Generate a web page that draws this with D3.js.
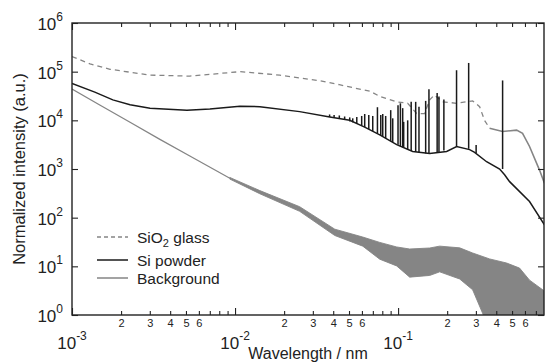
<!DOCTYPE html>
<html><head><meta charset="utf-8">
<script src="https://cdn.jsdelivr.net/npm/d3@7"></script>
<style>
body{margin:0;background:#fff}
svg{display:block;font-family:"Liberation Sans",Arial,Helvetica,sans-serif}
</style>
</head><body>
<svg id="chart" width="545" height="363"></svg>
<script>
// ---------- data (wavelength in nm, intensity in a.u.) ----------
const sio2X = [0.001, 0.00129, 0.00171, 0.00301, 0.00528, 0.0107, 0.0188, 0.0331, 0.0436, 0.0542, 0.0670, 0.0772, 0.0980, 0.1145, 0.130, 0.1455, 0.1562, 0.167, 0.1876, 0.2286, 0.2865, 0.3162, 0.339, 0.364];
const sio2Y = [204000, 145000, 112000, 85000, 81000, 100000, 85000, 65000, 54000, 46000, 40000, 31000, 24000, 22400, 13800, 13800, 26300, 33100, 24000, 22400, 25100, 19100, 10000, 6900];
const sio2TailX = [0.364, 0.4375, 0.533, 0.580, 0.640, 0.737, 0.79];
const sio2TailY = [6900, 5900, 6300, 5400, 2900, 950, 510];

const siX = [0.001, 0.00138, 0.00178, 0.00227, 0.00301, 0.00507, 0.00701, 0.0107, 0.01419, 0.0249, 0.0381, 0.0505, 0.0624, 0.0772, 0.0980, 0.1229, 0.1562, 0.1985, 0.2286, 0.2746, 0.2947, 0.349, 0.4195, 0.450, 0.483, 0.640, 0.79];
const siY = [57500, 38000, 26300, 20900, 17800, 16200, 17000, 19500, 19100, 15100, 11700, 10000, 7240, 5010, 3160, 2290, 2090, 2300, 2880, 2500, 2200, 1410, 1000, 760, 550, 214, 71];
const peakX    = [0.0380, 0.0405, 0.0436, 0.0470, 0.0505, 0.0527, 0.0558, 0.0598, 0.0624, 0.0661, 0.0699, 0.0747, 0.0783, 0.0805, 0.0839, 0.0901, 0.0927, 0.0999, 0.1033, 0.1067, 0.1082, 0.1145, 0.1203, 0.1282, 0.1343, 0.1476, 0.1546, 0.1736, 0.1781, 0.1909, 0.2283, 0.2709, 0.3010, 0.4375];
const peakTop  = [13200, 12800, 12600, 12000, 11500, 11000, 11700, 12300, 13500, 12900, 12300, 18600, 12900, 13500, 12300, 16200, 11000, 20400, 22400, 17800, 9300, 10000, 24000, 24000, 19100, 25100, 43700, 36300, 30900, 26900, 107000, 151000, 3100, 66000];
const peakBase = [11700, 11200, 10700, 10300, 9500, 9100, 8500, 7800, 7240, 6600, 6000, 5400, 4900, 4700, 4300, 3700, 3550, 3160, 2950, 2820, 2750, 2510, 2340, 2240, 2190, 2090, 2090, 2190, 2240, 2400, 2880, 2600, 2140, 1000];

const bgX = [0.001, 0.00148, 0.00227, 0.00346, 0.00528, 0.00929];
const bgY = [44000, 20700, 9140, 4070, 1850, 644];
const bandX     = [0.00929, 0.01419, 0.0249, 0.0409, 0.0607, 0.0772, 0.0980, 0.1178, 0.1562, 0.1799, 0.2385, 0.2865, 0.3641, 0.4628, 0.5559, 0.6402, 0.79];
const bandUpper = [670, 360, 168, 58, 40, 31, 25, 22.7, 23.8, 26, 24, 18.8, 14.2, 11.7, 9.2, 5.2, 3.1];
const bandLower = [620, 310, 135, 43, 26, 14, 10.2, 6.0, 6.5, 7.7, 5.5, 3.3, 0.5, 0.5, 0.5, 0.5, 0.5];

const xMajorTicks = [0.001, 0.01, 0.1];
const xMajorExp = ["-3", "-2", "-1"];
const xMinorTicks = [0.002,0.003,0.004,0.005,0.006,0.007,0.008,0.009,
                     0.02,0.03,0.04,0.05,0.06,0.07,0.08,0.09,
                     0.2,0.3,0.4,0.5,0.6,0.7];
const xMinorLabels = ["2","3","4","5","6","","","",
                      "2","3","4","5","6","","","",
                      "2","3","4","5","6",""];
const yTicks = [1, 10, 100, 1000, 10000, 100000, 1000000];
const yExp = ["0","1","2","3","4","5","6"];

const legendNames = ["SiO2 glass", "Si powder", "Background"];

// ---------- drawing ----------
const M = {left: 72, right: 544, top: 23, bottom: 315};
const svg = d3.select("#chart");
const x = d3.scaleLog().domain([0.001, 0.785]).range([M.left, M.right]);
const y = d3.scaleLog().domain([1, 1e6]).range([M.bottom, M.top]);
const gray = "#858585", ink = "#1a1a1a", axisInk = "#222";

svg.append("clipPath").attr("id", "clip").append("rect")
  .attr("x", M.left).attr("y", M.top).attr("width", M.right - M.left).attr("height", M.bottom - M.top);
const plot = svg.append("g").attr("clip-path", "url(#clip)");

const line = d3.line().x(d => x(d[0])).y(d => y(d[1]));
const zip = (a, b) => a.map((v, i) => [v, b[i]]);

// Background: clean part + noise band
plot.append("path").datum(zip(bgX, bgY)).attr("d", line)
  .attr("fill", "none").attr("stroke", gray).attr("stroke-width", 1.3);
const band = d3.area().x(d => x(d.x)).y0(d => y(Math.max(d.lo, 0.3))).y1(d => y(d.hi));
plot.append("path").datum(bandX.map((v, i) => ({x: v, hi: bandUpper[i], lo: bandLower[i]})))
  .attr("d", band).attr("fill", gray).attr("stroke", gray).attr("stroke-width", 0.9);

// SiO2 glass
plot.append("path").datum(zip(sio2X, sio2Y)).attr("d", line)
  .attr("fill", "none").attr("stroke", gray).attr("stroke-width", 1.3).attr("stroke-dasharray", "5,4");
plot.append("path").datum(zip(sio2TailX, sio2TailY)).attr("d", line)
  .attr("fill", "none").attr("stroke", gray).attr("stroke-width", 1.6);

// Si powder
plot.append("path").datum(zip(siX, siY)).attr("d", line)
  .attr("fill", "none").attr("stroke", ink).attr("stroke-width", 1.5);
plot.selectAll(".peak").data(peakX).join("line").attr("class", "peak")
  .attr("x1", d => x(d)).attr("x2", d => x(d))
  .attr("y1", (d, i) => y(peakBase[i])).attr("y2", (d, i) => y(peakTop[i]))
  .attr("stroke", ink).attr("stroke-width", 1.5);

// ---------- axes ----------
function styleAxis(g) {
  g.select(".domain").remove();
  g.selectAll(".tick line").attr("stroke", axisInk).attr("stroke-width", 1.1);
  g.selectAll("text").attr("fill", axisInk).attr("font-family", "Liberation Sans, Arial, sans-serif");
}
svg.append("g").attr("transform", `translate(0,${M.bottom})`)
  .call(d3.axisBottom(x).tickValues(xMinorTicks).tickSize(-4).tickPadding(4)
        .tickFormat((d, i) => xMinorLabels[i]))
  .call(styleAxis).call(g => g.selectAll("text").attr("font-size", 11));
svg.append("g").attr("transform", `translate(0,${M.bottom})`)
  .call(d3.axisBottom(x).tickValues(xMajorTicks).tickSize(-7).tickFormat(""))
  .call(styleAxis);
svg.append("g").attr("transform", `translate(0,${M.top})`)
  .call(d3.axisTop(x).tickValues(xMinorTicks).tickSize(-4).tickFormat("")).call(styleAxis);
svg.append("g").attr("transform", `translate(0,${M.top})`)
  .call(d3.axisTop(x).tickValues(xMajorTicks).tickSize(-7).tickFormat("")).call(styleAxis);
svg.append("g").attr("transform", `translate(${M.left},0)`)
  .call(d3.axisLeft(y).tickValues(yTicks).tickSize(-6).tickFormat("")).call(styleAxis);
svg.append("g").attr("transform", `translate(${M.right},0)`)
  .call(d3.axisRight(y).tickValues(yTicks).tickSize(-6).tickFormat("")).call(styleAxis);

svg.append("rect").attr("x", M.left).attr("y", M.top)
  .attr("width", M.right - M.left).attr("height", M.bottom - M.top)
  .attr("fill", "none").attr("stroke", axisInk).attr("stroke-width", 1.4);

const xl = svg.append("g").selectAll("text").data(xMajorTicks).join("text")
  .attr("x", d => x(d)).attr("y", 349).attr("text-anchor", "middle")
  .attr("fill", axisInk).attr("font-size", 17);
xl.append("tspan").text("10");
xl.append("tspan").attr("dy", -9).attr("font-size", 12).text((d, i) => xMajorExp[i]);

const yl = svg.append("g").selectAll("text").data(yTicks).join("text")
  .attr("x", 63).attr("y", d => y(d) + 7).attr("text-anchor", "end")
  .attr("fill", axisInk).attr("font-size", 17);
yl.append("tspan").text("10");
yl.append("tspan").attr("dy", -9).attr("font-size", 12).text((d, i) => yExp[i]);

svg.append("text").attr("x", (M.left + M.right) / 2).attr("y", 359)
  .attr("text-anchor", "middle").attr("font-size", 16).attr("fill", axisInk)
  .text("Wavelength / nm");
svg.append("text").attr("transform", `translate(25,${(M.top + M.bottom) / 2}) rotate(-90)`)
  .attr("text-anchor", "middle").attr("font-size", 16.5).attr("fill", axisInk)
  .text("Normalized intensity (a.u.)");

const legStyles = [
  {stroke: gray, dash: "4,3", w: 1.3},
  {stroke: ink, dash: null, w: 1.5},
  {stroke: gray, dash: null, w: 1.5}
];
const legY = [237, 260, 278];
const lg = svg.append("g").selectAll("g").data(legendNames).join("g")
  .attr("transform", (d, i) => `translate(0,${legY[i]})`);
lg.append("line").attr("x1", 97).attr("x2", 128).attr("y1", 0).attr("y2", 0)
  .attr("stroke", (d, i) => legStyles[i].stroke)
  .attr("stroke-width", (d, i) => legStyles[i].w)
  .attr("stroke-dasharray", (d, i) => legStyles[i].dash);
lg.each(function(d) {
  const t = d3.select(this).append("text").attr("x", 137).attr("y", 6)
    .attr("font-size", 15.5).attr("fill", axisInk);
  const m = d.match(/^(SiO)(2)(.*)$/);
  if (m) {
    t.append("tspan").text(m[1]);
    t.append("tspan").attr("dy", 4).attr("font-size", 11).text(m[2]);
    t.append("tspan").attr("dy", -4).text(m[3]);
  } else {
    t.text(d);
  }
});
</script>
</body></html>
